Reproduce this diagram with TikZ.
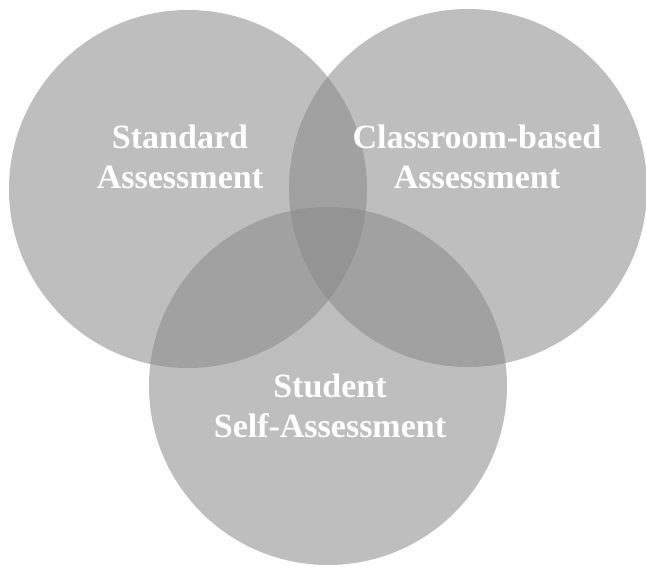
\documentclass[tikz,border=0pt]{standalone}
\usepackage{fontspec}
\setmainfont{Liberation Serif}
\usepackage{tikz}
\usetikzlibrary{positioning}

\definecolor{venngray}{RGB}{137,137,137}

\begin{document}
\begin{tikzpicture}
% style
	[x=0.5pt, y=-0.5pt,
	venn/.style={circle, fill=venngray, fill opacity=0.55, inner sep=0pt, minimum size=179pt},
	vennlabel/.style={align=center, text=white, font=\fontsize{17}{20}\selectfont\bfseries, inner sep=0pt}]

	\useasboundingbox (0,0) rectangle (646,566);

	% circles
	\node [venn] (std) at (188,189) {};
	\node [venn] (cls) at (468,188) {};
	\node [venn] (self) at (328,386) {};

	% labels
	\node [vennlabel] (stdlabel) at (180,157) {Standard\\Assessment};
	\node [vennlabel] (clslabel) at (477,157) {Classroom-based\\Assessment};
	\node [vennlabel] (selflabel) at (330,406) {Student\\Self-Assessment};
\end{tikzpicture}
\end{document}
